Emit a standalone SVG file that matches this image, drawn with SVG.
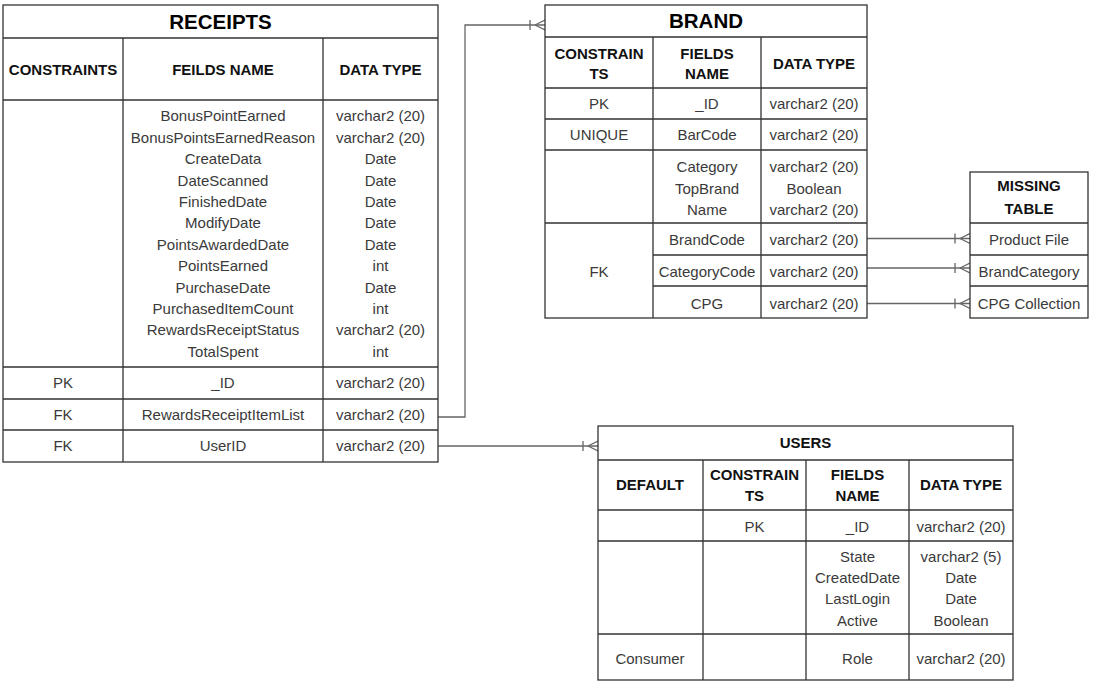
<svg xmlns="http://www.w3.org/2000/svg" width="1096" height="683" viewBox="0 0 1096 683">
<style>
text{font-family:"Liberation Sans",Arial,Helvetica,sans-serif;text-anchor:middle}
.t{font-size:15px;fill:#3a3a3a}
.h{font-size:15px;font-weight:bold;fill:#111}
.ti{font-size:20.5px;font-weight:bold;fill:#000}
.box{fill:#fff;stroke:#333;stroke-width:1.3}
.ln{stroke:#333;stroke-width:1.3;fill:none}
.cn{stroke:#666;stroke-width:1.3;fill:none}
</style>
<defs>
<marker id="oneMany" viewBox="0 -6 16 12" refX="16" refY="0" markerWidth="16" markerHeight="12" markerUnits="userSpaceOnUse" orient="auto">
<path d="M1,-5 V5 M6,0 L16,-5 M6,0 L16,5" stroke="#666" stroke-width="1.3" fill="none"/>
</marker>
</defs>
<rect width="1096" height="683" fill="#fff"/>

<g id="connectors">
<path class="cn" d="M438,417 H465 V25 H545" marker-end="url(#oneMany)"/>
<path class="cn" d="M438,446 H598" marker-end="url(#oneMany)"/>
<path class="cn" d="M867,238.5 H970" marker-end="url(#oneMany)"/>
<path class="cn" d="M867,268 H970" marker-end="url(#oneMany)"/>
<path class="cn" d="M867,303.5 H970" marker-end="url(#oneMany)"/>
</g>

<g id="receipts">
<rect class="box" x="3" y="5" width="435" height="457"/>
<path class="ln" d="M3,38 H438 M3,100 H438 M3,367 H438 M3,399 H438 M3,430 H438 M123,38 V462 M323,38 V462"/>
<text class="ti" x="220.5" y="29.3">RECEIPTS</text>
<text class="h" x="63" y="75.3">CONSTRAINTS</text>
<text class="h" x="223" y="75.3">FEILDS NAME</text>
<text class="h" x="380.5" y="75.3">DATA TYPE</text>
<text class="t" x="223" y="121.3">BonusPointEarned</text>
<text class="t" x="223" y="142.7">BonusPointsEarnedReason</text>
<text class="t" x="223" y="164.1">CreateData</text>
<text class="t" x="223" y="185.5">DateScanned</text>
<text class="t" x="223" y="206.9">FinishedDate</text>
<text class="t" x="223" y="228.3">ModifyDate</text>
<text class="t" x="223" y="249.7">PointsAwardedDate</text>
<text class="t" x="223" y="271.1">PointsEarned</text>
<text class="t" x="223" y="292.5">PurchaseDate</text>
<text class="t" x="223" y="313.9">PurchasedItemCount</text>
<text class="t" x="223" y="335.3">RewardsReceiptStatus</text>
<text class="t" x="223" y="356.7">TotalSpent</text>
<text class="t" x="380.5" y="121.3">varchar2 (20)</text>
<text class="t" x="380.5" y="142.7">varchar2 (20)</text>
<text class="t" x="380.5" y="164.1">Date</text>
<text class="t" x="380.5" y="185.5">Date</text>
<text class="t" x="380.5" y="206.9">Date</text>
<text class="t" x="380.5" y="228.3">Date</text>
<text class="t" x="380.5" y="249.7">Date</text>
<text class="t" x="380.5" y="271.1">int</text>
<text class="t" x="380.5" y="292.5">Date</text>
<text class="t" x="380.5" y="313.9">int</text>
<text class="t" x="380.5" y="335.3">varchar2 (20)</text>
<text class="t" x="380.5" y="356.7">int</text>
<text class="t" x="63" y="388.3">PK</text>
<text class="t" x="223" y="388.3">_ID</text>
<text class="t" x="380.5" y="388.3">varchar2 (20)</text>
<text class="t" x="63" y="419.8">FK</text>
<text class="t" x="223" y="419.8">RewardsReceiptItemList</text>
<text class="t" x="380.5" y="419.8">varchar2 (20)</text>
<text class="t" x="63" y="451.3">FK</text>
<text class="t" x="223" y="451.3">UserID</text>
<text class="t" x="380.5" y="451.3">varchar2 (20)</text>
</g>

<g id="brand">
<rect class="box" x="545" y="5" width="322" height="313"/>
<path class="ln" d="M545,37 H867 M545,88 H867 M545,119 H867 M545,150 H867 M545,223 H867 M653,255 H867 M653,286 H867 M653,37 V318 M761,37 V318"/>
<text class="ti" x="706" y="28.3">BRAND</text>
<text class="h" x="599" y="58.6">CONSTRAIN</text>
<text class="h" x="599" y="79.3">TS</text>
<text class="h" x="707" y="58.6">FIELDS</text>
<text class="h" x="707" y="79.3">NAME</text>
<text class="h" x="814" y="68.6">DATA TYPE</text>
<text class="t" x="599" y="108.6">PK</text>
<text class="t" x="707" y="108.6">_ID</text>
<text class="t" x="814" y="108.6">varchar2 (20)</text>
<text class="t" x="599" y="140.3">UNIQUE</text>
<text class="t" x="707" y="140.3">BarCode</text>
<text class="t" x="814" y="140.3">varchar2 (20)</text>
<text class="t" x="707" y="172">Category</text>
<text class="t" x="707" y="193.6">TopBrand</text>
<text class="t" x="707" y="214.6">Name</text>
<text class="t" x="814" y="172">varchar2 (20)</text>
<text class="t" x="814" y="193.6">Boolean</text>
<text class="t" x="814" y="214.6">varchar2 (20)</text>
<text class="t" x="599" y="277.3">FK</text>
<text class="t" x="707" y="245.3">BrandCode</text>
<text class="t" x="814" y="245.3">varchar2 (20)</text>
<text class="t" x="707" y="277">CategoryCode</text>
<text class="t" x="814" y="277">varchar2 (20)</text>
<text class="t" x="707" y="308.6">CPG</text>
<text class="t" x="814" y="308.6">varchar2 (20)</text>
</g>

<g id="missing-table">
<rect class="box" x="970" y="172" width="118" height="146"/>
<path class="ln" d="M970,223 H1088 M970,255 H1088 M970,286 H1088"/>
<text class="h" x="1029" y="191.3">MISSING</text>
<text class="h" x="1029" y="213.6">TABLE</text>
<text class="t" x="1029" y="245.3">Product File</text>
<text class="t" x="1029" y="277">BrandCategory</text>
<text class="t" x="1029" y="308.6">CPG Collection</text>
</g>

<g id="users">
<rect class="box" x="598" y="426" width="415" height="254"/>
<path class="ln" d="M598,460 H1013 M598,510 H1013 M598,541 H1013 M598,634 H1013 M703,460 V680 M806,460 V680 M909,460 V680"/>
<text class="h" x="805.5" y="448.3">USERS</text>
<text class="h" x="650" y="490.3">DEFAULT</text>
<text class="h" x="754.5" y="480.3">CONSTRAIN</text>
<text class="h" x="754.5" y="501.3">TS</text>
<text class="h" x="857.5" y="480.3">FIELDS</text>
<text class="h" x="857.5" y="501.3">NAME</text>
<text class="h" x="961" y="490.3">DATA TYPE</text>
<text class="t" x="754.5" y="532">PK</text>
<text class="t" x="857.5" y="532">_ID</text>
<text class="t" x="961" y="532">varchar2 (20)</text>
<text class="t" x="857.5" y="562.3">State</text>
<text class="t" x="857.5" y="583.3">CreatedDate</text>
<text class="t" x="857.5" y="604.3">LastLogin</text>
<text class="t" x="857.5" y="626">Active</text>
<text class="t" x="961" y="562.3">varchar2 (5)</text>
<text class="t" x="961" y="583.3">Date</text>
<text class="t" x="961" y="604.3">Date</text>
<text class="t" x="961" y="626">Boolean</text>
<text class="t" x="650" y="664.3">Consumer</text>
<text class="t" x="857.5" y="664.3">Role</text>
<text class="t" x="961" y="664.3">varchar2 (20)</text>
</g>
</svg>
